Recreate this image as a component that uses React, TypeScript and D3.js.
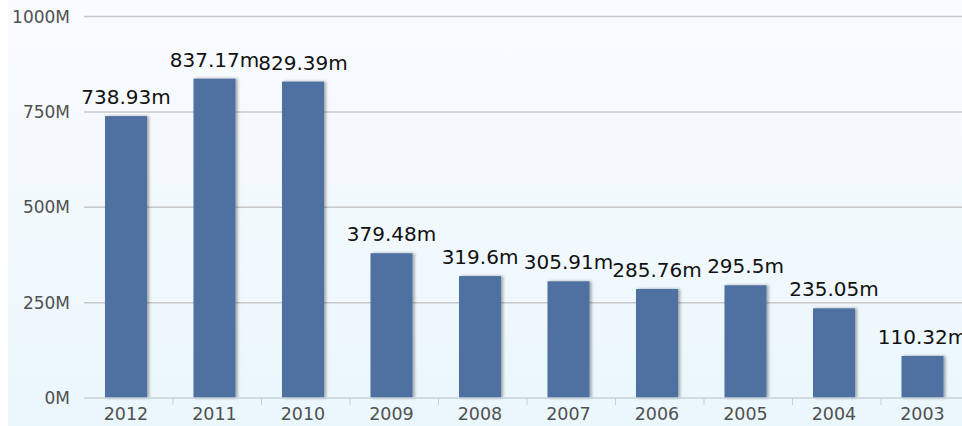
import React from "react";
import * as d3 from "d3";

const categories = ["2012", "2011", "2010", "2009", "2008", "2007", "2006", "2005", "2004", "2003"];
const values = [738.93, 837.17, 829.39, 379.48, 319.6, 305.91, 285.76, 295.5, 235.05, 110.32];
const yTicks = [0, 250, 500, 750, 1000];

const W = 962;
const H = 426;

export default function App() {
  const x = d3.scaleBand<string>().domain(categories).range([84.5, 969.5]).padding(0);
  const y = d3.scaleLinear().domain([0, 1000]).range([398, 16.5]);
  const barW = 42;
  const barOff = 20.5;

  return (
    <svg width={W} height={H} style={{ position: "absolute", left: 0, top: 0 }}>
      <defs>
        <linearGradient id="bg" x1="0" y1="0" x2="0" y2="1">
          <stop offset="0" stopColor="#fafbfe" />
          <stop offset="1" stopColor="#eaf7fc" />
        </linearGradient>
        <filter id="sh" x="-20%" y="-10%" width="150%" height="120%">
          <feDropShadow dx="2" dy="0" stdDeviation="1.5" floodColor="#000" floodOpacity="0.35" />
        </filter>
      </defs>
      <rect x={0} y={0} width={W} height={H} fill="#ffffff" />
      <rect x={8} y={0} width={W - 8} height={H} fill="url(#bg)" />
      {yTicks.map((t) => (
        <g key={t}>
          {t !== 0 && (
            <line x1={84} x2={W} y1={y(t)} y2={y(t)} stroke="#c8c8c8" strokeWidth={1.5} />
          )}
          <text
            x={70}
            y={y(t)}
            dy="0.36em"
            textAnchor="end"
            fontFamily="DejaVu Sans, Verdana, sans-serif"
            fontSize={17}
            fill="#505050"
          >
            {t}M
          </text>
        </g>
      ))}
      {categories.map((c, i) => {
        const x0 = x(c)!;
        return (
          <g key={c}>
            <rect
              x={x0 + barOff}
              y={y(values[i])}
              width={barW}
              height={y(0) - y(values[i])}
              fill="#4f71a1"
              filter="url(#sh)"
            />
            <text
              x={x0 + barOff + barW / 2}
              y={y(values[i]) - 12}
              textAnchor="middle"
              fontFamily="DejaVu Sans, Verdana, sans-serif"
              fontSize={20}
              fill="#111"
            >
              {values[i]}m
            </text>
            <text
              x={x0 + barOff + barW / 2}
              y={420}
              textAnchor="middle"
              fontFamily="DejaVu Sans, Verdana, sans-serif"
              fontSize={17.5}
              fill="#505050"
            >
              {c}
            </text>
            {i > 0 && <line x1={x0} x2={x0} y1={398} y2={405} stroke="#c5d0dc" strokeWidth={1} />}
          </g>
        );
      })}
      <line x1={84} x2={W} y1={398} y2={398} stroke="#c5d0dc" strokeWidth={1.5} />
    </svg>
  );
}
